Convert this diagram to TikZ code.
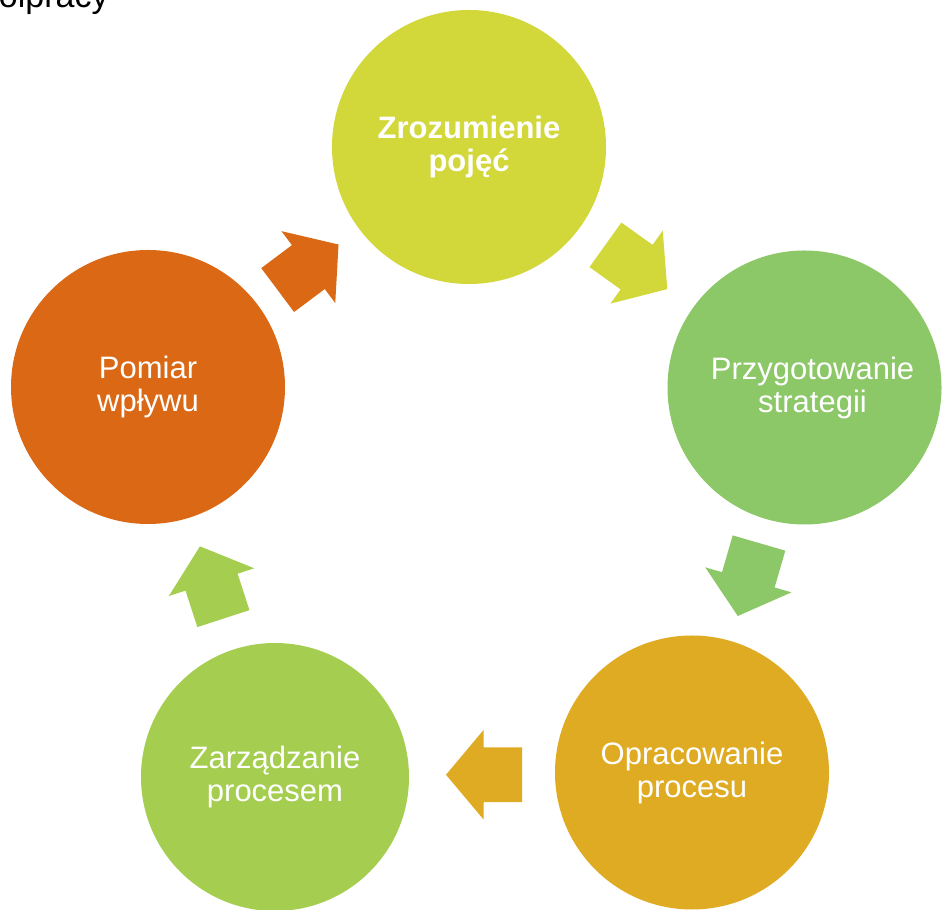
\documentclass[tikz,border=0pt]{standalone}
\usepackage{fontspec}
\setmainfont{Liberation Sans}
\usetikzlibrary{shapes.arrows, calc}

\definecolor{kolorA}{HTML}{D2D73A}
\definecolor{kolorB}{HTML}{8CC768}
\definecolor{kolorC}{HTML}{DFAB22}
\definecolor{kolorD}{HTML}{A5CE51}
\definecolor{kolorE}{HTML}{DA6814}

\begin{document}
\begin{tikzpicture}[x=0.5pt, y=0.5pt,
    etap/.style={circle, minimum size=137pt, inner sep=0pt, text=white, align=center,
        font=\fontsize{15.5}{16.5}\selectfont},
    strzalka/.style={single arrow, minimum height=38pt, inner xsep=0pt, inner ysep=13.5pt,
        single arrow head extend=8.75pt, single arrow tip angle=100}]

    \useasboundingbox (0,0) rectangle (946,909);

    % Tytul (obciety u gory)
    \node[anchor=base east, inner sep=0pt, font=\fontsize{17}{20}\selectfont] (tytul) at (109,901) {współpracy};

    % Kola
    \node[etap, fill=kolorA, font=\fontsize{15.5}{16.5}\selectfont\bfseries] (k1) at (469,762) {Zrozumienie\\pojęć};
    \node[etap, fill=kolorB] (k2) at (804.5,521.5) {\hspace*{8pt}Przygotowanie\\\hspace*{8pt}strategii};
    \node[etap, fill=kolorC] (k3) at (692,136.5) {Opracowanie\\procesu};
    \node[etap, fill=kolorD, minimum size=134pt] (k4) at (275,132) {Zarządzanie\\procesem};
    \node[etap, fill=kolorE] (k5) at (148,522) {Pomiar\\wpływu};

    % Strzalki miedzy kolami
    \foreach \z/\do/\kat/\kol in {k1/k2/-35.6/kolorA, k2/k3/-106.2/kolorB, k3/k4/180/kolorC, k4/k5/108/kolorD, k5/k1/36.8/kolorE} {
        \node[strzalka, fill=\kol, rotate=\kat] (s\z) at ($(\z)!0.5!(\do)+({\kat+180}:12)$) {};
    }
\end{tikzpicture}
\end{document}
